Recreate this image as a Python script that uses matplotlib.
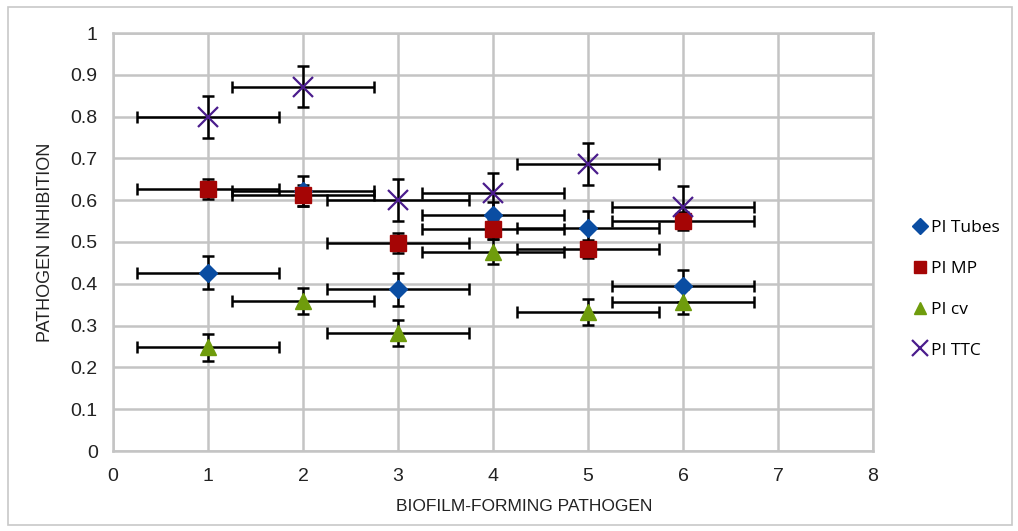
import numpy as np
import matplotlib
matplotlib.use('Agg')
import matplotlib.pyplot as plt
from matplotlib.patches import Rectangle

plt.rcParams['font.family'] = ['Liberation Sans', 'DejaVu Sans']

pathogen = [1, 2, 3, 4, 5, 6]
x_err = [0.75, 0.75, 0.75, 0.75, 0.75, 0.75]

pi_tubes = [0.427, 0.623, 0.387, 0.565, 0.533, 0.395]
pi_tubes_err = [0.04, 0.036, 0.039, 0.03, 0.04, 0.038]
pi_mp = [0.627, 0.612, 0.497, 0.531, 0.483, 0.550]
pi_mp_err = [0.023, 0.025, 0.024, 0.024, 0.022, 0.022]
pi_cv = [0.248, 0.359, 0.282, 0.477, 0.333, 0.357]
pi_cv_err = [0.033, 0.032, 0.031, 0.03, 0.031, 0.03]
pi_ttc = [0.80, 0.872, 0.600, 0.618, 0.686, 0.584]
pi_ttc_err = [0.05, 0.049, 0.05, 0.048, 0.05, 0.05]

series = [
    ('PI Tubes', pi_tubes, pi_tubes_err, 'D', '#0a4da2', 9),
    ('PI MP', pi_mp, pi_mp_err, 's', '#a50505', 11),
    ('PI cv', pi_cv, pi_cv_err, '^', '#6f9c0c', 11),
    ('PI TTC', pi_ttc, pi_ttc_err, 'x', '#4a1c8c', 14),
]

fig = plt.figure(figsize=(10.18, 5.31), dpi=100)
ax = fig.add_axes([113/1018, 1 - 451/531, 760/1018, 418/531])

fig.patches.append(Rectangle((8/1018, 6/531), 1004/1018, 518/531, transform=fig.transFigure,
                             fill=False, edgecolor='#c8c8c8', lw=1.2))

for name, vals, err, mk, col, ms in series:
    ax.errorbar(pathogen, vals, xerr=x_err, yerr=err, fmt='none', ecolor='black',
                elinewidth=1.8, capsize=4, capthick=1.8, zorder=3)
for name, vals, err, mk, col, ms in series:
    if mk == 'x':
        ax.plot(pathogen, vals, ls='none', marker=mk, color=col, ms=ms, mew=1.6,
                label=name, zorder=4)
    else:
        ax.plot(pathogen, vals, ls='none', marker=mk, color=col, ms=ms, mec=col,
                label=name, zorder=4)

ax.set_xlim(0, 8)
ax.set_ylim(0, 1)
ax.set_xticks(np.arange(0, 9, 1))
ax.set_yticks(np.arange(0, 1.01, 0.1))
ax.set_yticklabels(['0', '0.1', '0.2', '0.3', '0.4', '0.5', '0.6', '0.7', '0.8', '0.9', '1'])
ax.grid(True, color='#c4c4c4', lw=1.8)
ax.set_axisbelow(True)
for s in ax.spines.values():
    s.set_color('#c4c4c4')
    s.set_linewidth(1.8)
ax.tick_params(length=0, labelsize=14, colors='#222222')
ax.tick_params(axis='x', pad=12)
ax.tick_params(axis='y', pad=11)

ax.set_xlabel('BIOFILM-FORMING PATHOGEN', fontsize=12.5, labelpad=10, color='#222222')
ax.xaxis.set_label_coords((524 - 113) / 760, -0.115)
ax.set_ylabel('PATHOGEN INHIBITION', fontsize=13, labelpad=12, color='#222222')

leg = ax.legend(loc='upper left', bbox_to_anchor=(1.027, 0.59), frameon=False,
                labelspacing=1.42, handletextpad=0.05, handlelength=1.2, markerscale=0.85,
                prop={'family': ['Open Sans', 'DejaVu Sans'], 'size': 12.5})

fig.savefig('out.png', dpi=100)
